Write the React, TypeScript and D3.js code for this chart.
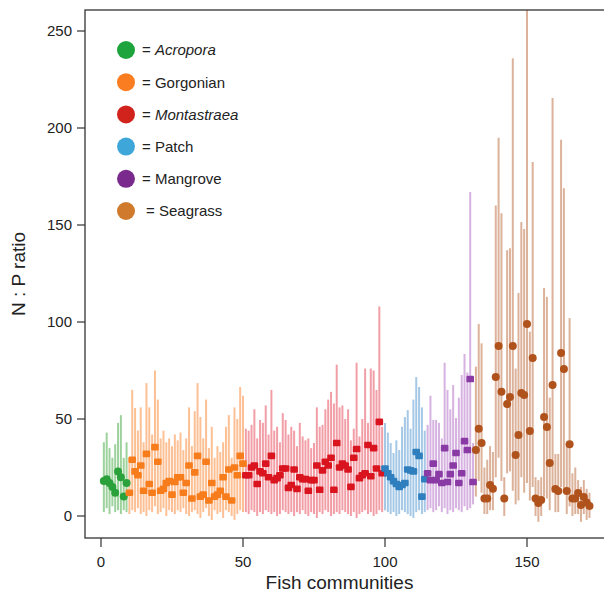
import React from 'react';
import * as d3 from 'd3';

// values (median, upper and lower bound per community)
const acroporaMed = [18, 19, 17, 15, 12, 23, 20, 10, 17];
const acroporaHi = [38, 43, 35, 30, 37, 48, 52, 30, 38];
const acroporaLo = [2, 4, 1, 5, 2, 3, 1, 3, 2];

const gorgonianMed = [12, 29, 23, 21, 26, 13, 32, 16.5, 12, 35.5, 28, 13, 14, 17, 18, 11, 17.5, 20, 20, 12, 17, 26, 9, 22.5, 31, 10, 11, 28, 8, 17, 10, 11, 13, 20, 10, 24, 8, 25, 21, 31, 27];
const gorgonianHi = [30, 65, 55.7, 44, 56, 38, 68.5, 56, 42, 75, 60, 40, 44, 38, 40, 36, 42, 39, 43, 34, 40, 56, 36, 54, 68.5, 51, 40, 60, 35, 46, 30, 36, 33, 38, 46, 52, 30, 56, 50, 66.5, 62];
const gorgonianLo = [1, 3, 2, 4, 1, 2, 0, 3, 2, 5, 1, 2, 4, 0, 3, 2, 1, 3, 2, 4, 1, 0, 2, 3, 1, -1, 2, 4, 0, -2, 3, 1, 2, -1, 3, 2, 0, -2, 1, 3, 2];

const montastraeaMed = [21, 21, 25, 26, 16.5, 23, 22, 27, 20, 31, 18.5, 19.5, 21, 24.5, 24.5, 14.5, 16, 24, 14, 20, 19, 19, 13, 18.5, 18.5, 26, 13.5, 23.5, 28, 26, 30, 13.5, 37.6, 25, 27, 26, 24, 15, 30, 34.5, 19.5, 21, 22, 36.6, 20.5, 35, 24.5, 48.5, 22];
const montastraeaHi = [45, 44, 47, 55, 40, 49.5, 48, 57, 42, 65, 44, 46, 38, 53, 49.5, 42, 46, 44, 36, 48, 41, 39, 40, 35, 37.6, 56, 46, 47, 55, 60, 64, 58, 78, 56, 57, 50, 55, 39, 45, 79, 41, 50, 76, 48, 76, 75, 65, 108, 46];
const montastraeaLo = [2, 1, 3, 2, 0, 2, 1, 3, 2, 1, 2, 0, 1, 3, 2, 1, 2, 0, 2, 1, 3, 1, 0, 2, 1, -1, 2, 1, 3, 2, 0, 1, 2, 1, 3, 2, 1, 0, 2, -1, 1, 2, 3, 1, 2, 0, 1, 3, 2];

const patchMed = [24.5, 22, 20, 18, 16.5, 15, 16, 17, 24, 23.5, 23, 33, 31, 10, 19];
const patchHi = [48, 43, 37.6, 32.5, 39, 34, 46, 51, 54.6, 45, 60, 71.6, 66.5, 56, 44];
const patchLo = [3, 2, 1, 2, 0, 1, 3, 2, 1, 0, -1, 2, 3, 1, 2];

const mangroveMed = [22, 18.5, 27, 18.5, 21.6, 17, 35, 17.5, 21.6, 26, 32.5, 17, 22, 38.6, 34, 70.6, 17.5];
const mangroveHi = [47, 62, 49.5, 49.5, 48, 40, 79, 65, 55, 67.5, 50.5, 61, 72.7, 83.5, 74, 167, 37.6];
const mangroveLo = [3, 4, 2, 3, 5, 2, 4, 1, 3, 2, 4, 3, 2, 5, 3, 4, 6];

const seagrassMed = [34, 45, 37.6, 9, 9, 16, 14, 71.6, 87.6, 64, 9, 57.7, 61.3, 87.6, 31.4, 41.7, 63.4, 62.4, 99, 43.8, 81.4, 9, 6.7, 8.2, 51, 45.9, 27.3, 67.5, 13.9, 12.9, 84, 75.8, 12.9, 37, 9, 9, 11.9, 5.7, 9.8, 7, 5.2];
const seagrassHi = [77, 99, 89, 25, 29, 36, 33, 160, 195, 156, 20, 137, 138, 236, 76, 115, 151.5, 148, 300, 95, 182.5, 20, 18.5, 20, 117.5, 113, 61, 215.5, 32, 32, 194, 169, 37.6, 102, 22, 25, 18.5, 15, 18.5, 14, 12];
const seagrassLo = [10, 18, 12, 1, 1, 3, 3, 20, 30, 18, 0, 22, 23, 13, 6, 8, 20, 12, 17, 8, 15, 0, -3, 0, 10, 9, 3, 12, 2, 2, 15, 12, 1, 5, 0, 1, 1, -3, 1, -2, -1];

const xTicks = [0, 50, 100, 150];
const yTicks = [0, 50, 100, 150, 200, 250];

const groups = [
  { name: 'Acropora', italic: true, start: 1, med: acroporaMed, hi: acroporaHi, lo: acroporaLo, legend: '#1ea43c', dot: '#2aa13a', bar: '#9dd29d', round: true },
  { name: 'Gorgonian', italic: false, start: 10, med: gorgonianMed, hi: gorgonianHi, lo: gorgonianLo, legend: '#fb7d22', dot: '#f77c1c', bar: '#fcc094', round: false },
  { name: 'Montastraea', italic: true, start: 51, med: montastraeaMed, hi: montastraeaHi, lo: montastraeaLo, legend: '#d2221c', dot: '#d9141e', bar: '#f29ea7', round: false },
  { name: 'Patch', italic: false, start: 100, med: patchMed, hi: patchHi, lo: patchLo, legend: '#3ea6d8', dot: '#2f7fbf', bar: '#a5c8e6', round: false },
  { name: 'Mangrove', italic: false, start: 115, med: mangroveMed, hi: mangroveHi, lo: mangroveLo, legend: '#7a2a8c', dot: '#8a3aa4', bar: '#d6b2e1', round: false },
  { name: 'Seagrass', italic: false, start: 132, med: seagrassMed, hi: seagrassHi, lo: seagrassLo, legend: '#cf7a2d', dot: '#b0521c', bar: '#dcb29a', round: true },
];

const W = 604, H = 598;
const box = { left: 85, top: 10, right: 606, bottom: 538 };
const font = '"Liberation Sans", Arial, Helvetica, sans-serif';

export default function App() {
  const x = d3.scaleLinear().domain([0, 150]).range([101, 527]);
  const y = d3.scaleLinear().domain([0, 250]).range([516, 31]);

  return (
    <svg width={W} height={H} style={{ position: 'absolute', left: 0, top: 0, background: '#fff' }} fontFamily={font}>
      <defs>
        <clipPath id="plotClip">
          <rect x={box.left} y={box.top} width={box.right - box.left} height={box.bottom - box.top} />
        </clipPath>
      </defs>

      <g clipPath="url(#plotClip)">
        {/* error bars */}
        {groups.map(g => g.med.map((_, i) => (
          <line key={g.name + 'b' + i}
            x1={x(g.start + i)} x2={x(g.start + i)}
            y1={y(g.lo[i])} y2={y(g.hi[i])}
            stroke={g.bar} strokeWidth={2} />
        )))}
        {/* medians */}
        {groups.map(g => g.med.map((v, i) => g.round
          ? <circle key={g.name + 'm' + i} cx={x(g.start + i)} cy={y(v)} r={4} fill={g.dot} />
          : <rect key={g.name + 'm' + i} x={x(g.start + i) - 3.8} y={y(v) - 3.3} width={7.6} height={6.6} rx={1.2} fill={g.dot} />
        ))}
      </g>

      {/* frame */}
      <rect x={box.left} y={box.top} width={box.right - box.left} height={box.bottom - box.top}
        fill="none" stroke="#333" strokeWidth={1.3} />

      {/* y axis */}
      {yTicks.map(t => (
        <g key={'y' + t}>
          <line x1={box.left - 8} x2={box.left} y1={y(t)} y2={y(t)} stroke="#333" strokeWidth={1.2} />
          <text x={box.left - 13} y={y(t)} dy="0.36em" textAnchor="end" fontSize={15} fill="#222">{t}</text>
        </g>
      ))}
      {/* x axis */}
      {xTicks.map(t => (
        <g key={'x' + t}>
          <line x1={x(t)} x2={x(t)} y1={box.bottom} y2={box.bottom + 9} stroke="#333" strokeWidth={1.2} />
          <text x={x(t)} y={box.bottom + 29} textAnchor="middle" fontSize={15} fill="#222">{t}</text>
        </g>
      ))}
      <text x={(box.left + 594) / 2} y={589} textAnchor="middle" fontSize={19} fill="#222">Fish communities</text>
      <text transform={`translate(25,${(box.top + box.bottom) / 2}) rotate(-90)`} textAnchor="middle" fontSize={19} fill="#222">N : P ratio</text>

      {/* legend */}
      {groups.map((g, i) => (
        <g key={'leg' + g.name} transform={`translate(126,${50 + i * 32.2})`}>
          <circle r={9} fill={g.legend} />
          <text x={g.name === 'Seagrass' ? 20 : 16} dy="0.36em" fontSize={15} fill="#222">
            {'= '}<tspan fontStyle={g.italic ? 'italic' : 'normal'}>{g.name}</tspan>
          </text>
        </g>
      ))}
    </svg>
  );
}
